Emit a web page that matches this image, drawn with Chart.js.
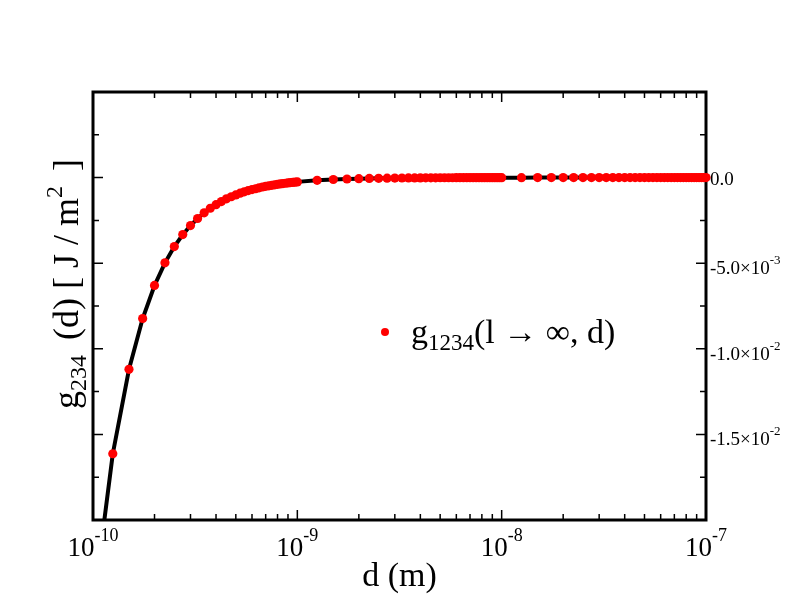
<!DOCTYPE html>
<html>
<head>
<meta charset="utf-8">
<title>g234(d)</title>
<script src="https://cdn.jsdelivr.net/npm/chart.js@4.4.1/dist/chart.umd.min.js"></script>
<style>
  html, body { margin: 0; padding: 0; background: #fff; }
</style>
</head>
<body>
<canvas id="grafico" width="792" height="612"></canvas>
<script>
// separacion d (m), decada 1e-10 .. 1e-9
const dNear = [1.25e-10, 1.5e-10, 1.75e-10, 2e-10, 2.25e-10, 2.5e-10, 2.75e-10, 3e-10, 3.25e-10,
  3.5e-10, 3.75e-10, 4e-10, 4.25e-10, 4.5e-10, 4.75e-10, 5e-10, 5.25e-10, 5.5e-10, 5.75e-10,
  6e-10, 6.25e-10, 6.5e-10, 6.75e-10, 7e-10, 7.25e-10, 7.5e-10, 7.75e-10, 8e-10, 8.25e-10,
  8.5e-10, 8.75e-10, 9e-10, 9.25e-10, 9.5e-10, 9.75e-10, 1e-9];
const gNear = [-0.01613, -0.01120, -0.00823, -0.00630, -0.00498, -0.00403, -0.00333, -0.00280, -0.00239,
  -0.00206, -0.00179, -0.00158, -0.00140, -0.00124, -0.00112, -0.00101, -0.00091, -0.00083, -0.00076,
  -0.00070, -0.00065, -0.00060, -0.00055, -0.00051, -0.00048, -0.00045, -0.00042, -0.00039, -0.00037,
  -0.00035, -0.00033, -0.00031, -0.00029, -0.00028, -0.00027, -0.00025];

// decada 1e-9 .. 1e-8
const dMid = [1.25e-9, 1.5e-9, 1.75e-9, 2e-9, 2.25e-9, 2.5e-9, 2.75e-9, 3e-9, 3.25e-9,
  3.5e-9, 3.75e-9, 4e-9, 4.25e-9, 4.5e-9, 4.75e-9, 5e-9, 5.25e-9, 5.5e-9, 5.75e-9,
  6e-9, 6.25e-9, 6.5e-9, 6.75e-9, 7e-9, 7.25e-9, 7.5e-9, 7.75e-9, 8e-9, 8.25e-9,
  8.5e-9, 8.75e-9, 9e-9, 9.25e-9, 9.5e-9, 9.75e-9, 1e-8];
const gMid = [-0.000161, -0.000112, -0.000082, -0.000063, -0.000050, -0.000040, -0.000033, -0.000028, -0.000024,
  -0.000021, -0.000018, -0.000016, -0.000014, -0.000012, -0.000011, -0.000010, -0.000009, -0.000008, -0.000008,
  -0.000007, -0.000006, -0.000006, -0.000006, -0.000005, -0.000005, -0.000004, -0.000004, -0.000004, -0.000004,
  -0.000003, -0.000003, -0.000003, -0.000003, -0.000003, -0.000003, -0.000003];

// decada 1e-8 .. 1e-7
const dFar = [1.25e-8, 1.5e-8, 1.75e-8, 2e-8, 2.25e-8, 2.5e-8, 2.75e-8, 3e-8, 3.25e-8,
  3.5e-8, 3.75e-8, 4e-8, 4.25e-8, 4.5e-8, 4.75e-8, 5e-8, 5.25e-8, 5.5e-8, 5.75e-8,
  6e-8, 6.25e-8, 6.5e-8, 6.75e-8, 7e-8, 7.25e-8, 7.5e-8, 7.75e-8, 8e-8, 8.25e-8,
  8.5e-8, 8.75e-8, 9e-8, 9.25e-8, 9.5e-8, 9.75e-8, 1e-7];
const gFar = [-0.000002, -0.000001, -0.000001, -0.000001, 0, 0, 0, 0, 0,
  0, 0, 0, 0, 0, 0, 0, 0, 0, 0,
  0, 0, 0, 0, 0, 0, 0, 0, 0, 0,
  0, 0, 0, 0, 0, 0, 0];

// la curva negra arranca en 1e-10 (sale por abajo del grafico)
const curveStartD = 1e-10;
const curveStartG = -0.0252;

// ticks
const xMajorTicks = [1e-10, 1e-9, 1e-8, 1e-7];
const xMajorExp = ['-10', '-9', '-8', '-7'];
const xMinorTicks = [2e-10, 3e-10, 4e-10, 5e-10, 6e-10, 7e-10, 8e-10, 9e-10,
  2e-9, 3e-9, 4e-9, 5e-9, 6e-9, 7e-9, 8e-9, 9e-9,
  2e-8, 3e-8, 4e-8, 5e-8, 6e-8, 7e-8, 8e-8, 9e-8];
const yMajorTicks = [0, -0.005, -0.01, -0.015];
const yMajorMant = ['0.0', '-5.0\u00d710', '-1.0\u00d710', '-1.5\u00d710'];
const yMajorExp = ['', '-3', '-2', '-2'];
const yMinorTicks = [0.0025, -0.0025, -0.0075, -0.0125, -0.0175];

const serif = '"Liberation Serif", "Times New Roman", serif';

const puntos = [];
const curva = [{ x: curveStartD, y: curveStartG }];
[[dNear, gNear], [dMid, gMid], [dFar, gFar]].forEach(([ds, gs]) => {
  ds.forEach((d, i) => {
    puntos.push({ x: d, y: gs[i] });
    curva.push({ x: d, y: gs[i] });
  });
});

// texto con sub/superindices
function richWidth(ctx, parts) {
  let w = 0;
  parts.forEach(p => {
    ctx.font = p.size + 'px ' + serif;
    w += ctx.measureText(p.t).width + (p.gap || 0);
  });
  return w;
}
function drawRich(ctx, parts, x, y) {
  let cx = x;
  parts.forEach(p => {
    ctx.font = p.size + 'px ' + serif;
    ctx.fillText(p.t, cx, y + (p.dy || 0));
    cx += ctx.measureText(p.t).width + (p.gap || 0);
  });
}

const marcoYEtiquetas = {
  id: 'marcoYEtiquetas',
  beforeDatasetsDraw(chart) {
    const { ctx, chartArea: a, scales: { x, y } } = chart;
    ctx.save();
    ctx.strokeStyle = '#000';
    ctx.lineWidth = 1.5;
    ctx.beginPath();
    // ticks eje x (abajo y arriba, hacia adentro)
    xMajorTicks.forEach(v => {
      const px = x.getPixelForValue(v);
      ctx.moveTo(px, a.bottom); ctx.lineTo(px, a.bottom - 10);
      ctx.moveTo(px, a.top); ctx.lineTo(px, a.top + 10);
    });
    xMinorTicks.forEach(v => {
      const px = x.getPixelForValue(v);
      ctx.moveTo(px, a.bottom); ctx.lineTo(px, a.bottom - 6);
      ctx.moveTo(px, a.top); ctx.lineTo(px, a.top + 6);
    });
    // ticks eje y (izquierda y derecha)
    yMajorTicks.forEach(v => {
      const py = y.getPixelForValue(v);
      ctx.moveTo(a.left, py); ctx.lineTo(a.left + 10, py);
      ctx.moveTo(a.right, py); ctx.lineTo(a.right - 10, py);
    });
    yMinorTicks.forEach(v => {
      const py = y.getPixelForValue(v);
      ctx.moveTo(a.left, py); ctx.lineTo(a.left + 6, py);
      ctx.moveTo(a.right, py); ctx.lineTo(a.right - 6, py);
    });
    ctx.stroke();

    // marco
    ctx.lineWidth = 3;
    ctx.strokeRect(a.left, a.top, a.right - a.left, a.bottom - a.top);

    ctx.fillStyle = '#000';
    ctx.textBaseline = 'alphabetic';
    ctx.textAlign = 'left';

    // etiquetas eje x: 10^n
    xMajorTicks.forEach((v, i) => {
      const px = x.getPixelForValue(v);
      const parts = [{ t: '10', size: 27 }, { t: xMajorExp[i], size: 18, dy: -15 }];
      const w = richWidth(ctx, parts);
      drawRich(ctx, parts, px - w / 2, a.bottom + 36);
    });

    // etiquetas eje y a la derecha
    yMajorTicks.forEach((v, i) => {
      const py = y.getPixelForValue(v);
      const parts = [{ t: yMajorMant[i], size: 19 }];
      let base = py + 7;
      if (yMajorExp[i]) {
        parts.push({ t: yMajorExp[i], size: 13, dy: -10 });
        base = py + 11;
      }
      drawRich(ctx, parts, a.right + 4, base);
    });

    // titulo eje x
    ctx.font = '34px ' + serif;
    ctx.textAlign = 'center';
    ctx.fillText('d (m)', (a.left + a.right) / 2, 586);
    ctx.textAlign = 'left';

    // titulo eje y (rotado)
    const yTitle = [
      { t: 'g', size: 36 }, { t: '234', size: 24, dy: 8, gap: 6 },
      { t: ' (d) [ J / m', size: 36 }, { t: '2', size: 24, dy: -16, gap: 6 },
      { t: ' ]', size: 36 }
    ];
    ctx.save();
    ctx.translate(78, 284);
    ctx.rotate(-Math.PI / 2);
    const wt = richWidth(ctx, yTitle);
    drawRich(ctx, yTitle, -wt / 2, 0);
    ctx.restore();

    // leyenda
    ctx.fillStyle = '#ff0000';
    ctx.beginPath();
    ctx.arc(385, 332, 4, 0, Math.PI * 2);
    ctx.fill();
    ctx.fillStyle = '#000';
    drawRich(ctx, [
      { t: 'g', size: 34 }, { t: '1234', size: 23, dy: 7 },
      { t: '(l \u2192 \u221e, d)', size: 34 }
    ], 411, 343);

    ctx.restore();
  }
};

const ctx = document.getElementById('grafico').getContext('2d');
const grafico = new Chart(ctx, {
  type: 'scatter',
  data: {
    datasets: [
      {
        label: 'g1234(l -> inf, d)',
        data: puntos,
        showLine: false,
        pointRadius: 4.6,
        pointBorderWidth: 0,
        backgroundColor: '#ff0000',
        borderColor: '#ff0000',
        clip: false,
        order: 0
      },
      {
        label: 'curva',
        data: curva,
        showLine: true,
        pointRadius: 0,
        borderColor: '#000000',
        borderWidth: 4,
        tension: 0,
        clip: 0,
        order: 1
      }
    ]
  },
  options: {
    responsive: false,
    animation: false,
    events: [],
    layout: { padding: { left: 93, right: 86, top: 92, bottom: 92 } },
    plugins: {
      legend: { display: false },
      tooltip: { enabled: false }
    },
    scales: {
      x: { type: 'logarithmic', min: 1e-10, max: 1e-7, display: false },
      y: { type: 'linear', min: -0.02, max: 0.005, display: false }
    }
  },
  plugins: [marcoYEtiquetas]
});
</script>
</body>
</html>
